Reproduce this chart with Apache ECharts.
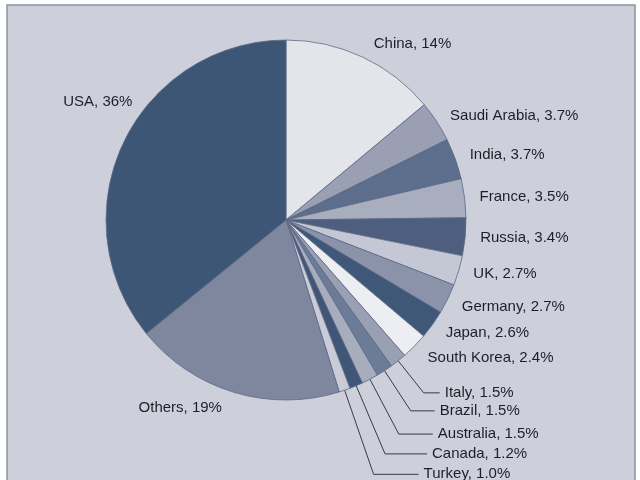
<!DOCTYPE html>
<html>
<head>
<meta charset="utf-8">
<script src="https://cdn.jsdelivr.net/npm/echarts@6/dist/echarts.min.js"></script>
<style>
html,body{margin:0;padding:0;background:#ffffff;}
#chart{width:640px;height:480px;}
</style>
</head>
<body>
<div id="chart"></div>
<script>
const countries = ['China','Saudi Arabia','India','France','Russia','UK','Germany','Japan','South Korea','Italy','Brazil','Australia','Canada','Turkey','Others','USA'];
const shares = [14, 3.7, 3.7, 3.5, 3.4, 2.7, 2.7, 2.6, 2.4, 1.5, 1.5, 1.5, 1.2, 1.0, 19, 36];
const sliceColors = ['#e4e5eb','#9a9fb3','#5d6d8c','#a9aebe','#4d5e7e','#c4c8d4','#8a93aa','#3f5878','#eceef2','#9aa0b3','#6c7b96','#a8adbd','#3f5676','#c9ccd7','#7f879f','#3e5675'];
// countries whose labels are connected with a visible leader line
const leaderCountries = ['Italy','Brazil','Australia','Canada','Turkey'];

const leaderStyle = {
  'China':     {length: 15, length2: 0},
  'Italy':     {length: 41, length2: 16},
  'Brazil':    {length: 48, length2: 24},
  'Australia': {length: 62, length2: 34},
  'Canada':    {length: 74, length2: 42},
  'Turkey':    {length: 89, length2: 45}
};
// small label nudges (layout only)
const labelNudge = {
  'USA': {dx: 23, dy: -36},
  'Others': {dx: -4, dy: 6},
  'Germany': {dx: 0, dy: 4},
  'Japan': {dx: 0, dy: 3},
  'South Korea': {dx: 1, dy: 5}
};

function fmt(v){ return v >= 10 ? v.toFixed(0) : v.toFixed(1); }

const data = countries.map((c, i) => {
  const item = { name: c, value: shares[i], itemStyle: { color: sliceColors[i] } };
  if (leaderStyle[c]) {
    item.labelLine = { show: leaderCountries.indexOf(c) >= 0,
      length: leaderStyle[c].length, length2: leaderStyle[c].length2,
      lineStyle: { color: '#3a3a44', width: 1 } };
  }
  return item;
});

const chart = echarts.init(document.getElementById('chart'), null, {renderer: 'canvas'});
chart.setOption({
  backgroundColor: '#ffffff',
  animation: false,
  graphic: [{
    type: 'rect',
    z: -10,
    shape: { x: 7, y: 5, width: 628, height: 520 },
    style: { fill: '#cdd0da', stroke: '#8e929e', lineWidth: 1.5 }
  }],
  series: [{
    type: 'pie',
    center: [286, 220],
    radius: 180,
    startAngle: 90,
    clockwise: true,
    avoidLabelOverlap: false,
    data: data,
    itemStyle: { borderColor: '#5d6a86', borderWidth: 0.8 },
    label: {
      show: true,
      position: 'outside',
      formatter: p => p.name + ', ' + fmt(p.value) + '%',
      color: '#1e1e28',
      fontFamily: 'Liberation Sans, Arial, sans-serif',
      fontSize: 15,
      distanceToLabelLine: 5
    },
    labelLine: { show: false, length: 10, length2: 0 },
    labelLayout: function (p) {
      const n = labelNudge[countries[p.dataIndex]];
      return n ? { dx: n.dx, dy: n.dy } : {};
    },
    emphasis: { disabled: true }
  }]
});
</script>
</body>
</html>
